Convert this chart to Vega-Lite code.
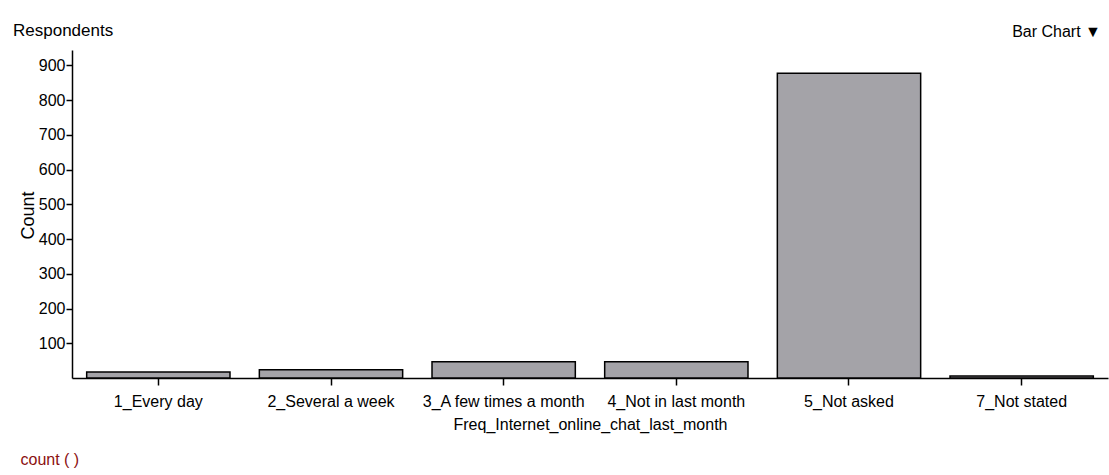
{
  "$schema": "https://vega.github.io/schema/vega-lite/v6.json",
  "width": 1036,
  "height": 328,
  "autosize": {"type": "none"},
  "padding": {"left": 72, "top": 50, "right": 1, "bottom": 97},
  "background": "white",
  "title": {"text": "Respondents", "anchor": "start", "frame": "group", "dx": -59, "offset": -17, "fontSize": 17, "font": "Liberation Sans", "fontWeight": "normal", "color": "black"},
  "data": {"values": [
    {"category": "1_Every day", "count": 17},
    {"category": "2_Several a week", "count": 24},
    {"category": "3_A few times a month", "count": 47},
    {"category": "4_Not in last month", "count": 47},
    {"category": "5_Not asked", "count": 877},
    {"category": "7_Not stated", "count": 6}
  ]},
  "resolve": {"axis": {"x": "independent", "y": "independent"}},
  "layer": [
    {
      "mark": {"type": "bar", "fill": "#a4a3a8", "stroke": "black", "strokeWidth": 1.5},
      "encoding": {
        "x": {"field": "category", "type": "nominal", "sort": null,
          "scale": {"paddingInner": 0.17, "paddingOuter": 0.085},
          "axis": {"orient": "bottom", "title": "Freq_Internet_online_chat_last_month", "labelAngle": 0, "domainColor": "black", "domainWidth": 1.5, "tickColor": "black", "tickSize": 7, "tickWidth": 1.5, "labelPadding": 8, "labelFont": "Liberation Sans", "labelFontSize": 16, "labelColor": "black", "titleFont": "Liberation Sans", "titleFontSize": 16, "titleFontWeight": "normal", "titleColor": "black", "titlePadding": 7}},
        "y": {"field": "count", "type": "quantitative",
          "scale": {"domain": [0, 944], "nice": false},
          "axis": {"orient": "left", "title": "Count", "values": [100, 200, 300, 400, 500, 600, 700, 800, 900], "grid": false, "domainColor": "black", "domainWidth": 1.5, "tickColor": "black", "tickSize": 6, "tickWidth": 1.5, "labelPadding": 1, "labelFont": "Liberation Sans", "labelFontSize": 16, "labelColor": "black", "titleFont": "Liberation Sans", "titleFontSize": 18, "titleFontWeight": "normal", "titleColor": "black", "titleX": -35, "titleY": 165, "titleAngle": -90, "titleAlign": "center", "titleBaseline": "bottom"}}
      }
    },
    {
      "mark": {"type": "bar", "opacity": 0},
      "encoding": {
        "x": {"field": "category", "type": "nominal", "sort": null,
          "axis": {"orient": "top", "title": "Bar Chart ▼", "domain": false, "ticks": false, "labels": false, "grid": false, "titleFont": "Liberation Sans", "titleFontSize": 16, "titleFontWeight": "normal", "titleColor": "black", "titleX": 984, "titleY": -19, "titleAlign": "center", "titleBaseline": "middle", "titleAngle": 0}},
        "y": {"field": "count", "type": "quantitative",
          "axis": {"orient": "right", "title": "count (   )", "domain": false, "ticks": false, "labels": false, "grid": false, "titleFont": "Liberation Sans", "titleFontSize": 16, "titleFontWeight": "normal", "titleColor": "#8b1010", "titleX": -1088, "titleY": 409, "titleAngle": 0, "titleAlign": "left", "titleBaseline": "middle"}}
      }
    }
  ],
  "config": {"view": {"stroke": null}}
}
